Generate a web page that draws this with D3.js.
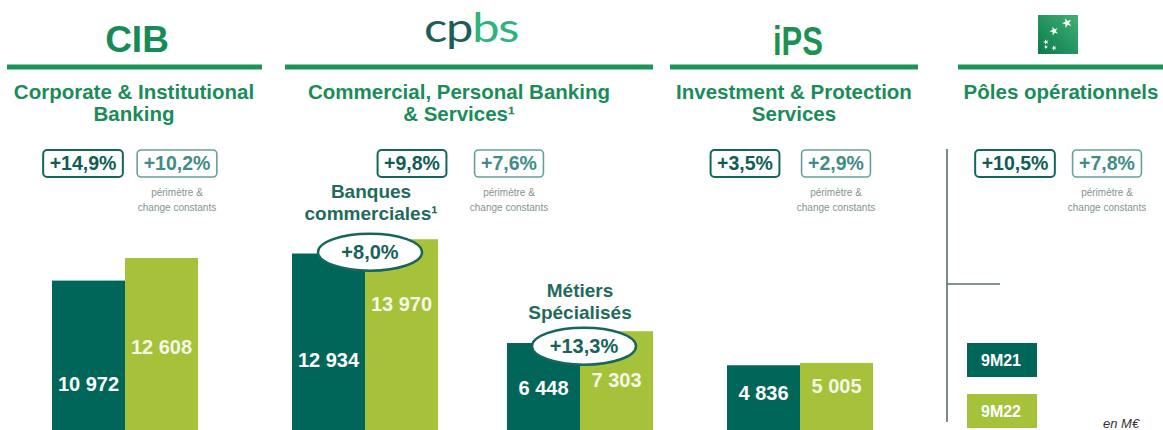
<!DOCTYPE html>
<html lang="fr">
<head>
<meta charset="utf-8">
<script src="https://cdn.jsdelivr.net/npm/d3@7"></script>
<style>
  body { margin: 0; background: #fff; }
  svg { display: block; font-family: "Liberation Sans", Arial, sans-serif; }
</style>
</head>
<body>
<script>
// data
var barGroups = ["CIB", "Banques commerciales", "Métiers Spécialisés", "IPS"];
var values9M21 = [10972, 12934, 6448, 4836];
var values9M22 = [12608, 13970, 7303, 5005];
var periods = ["9M21", "9M22"];

var poles = ["CIB", "CPBS", "IPS", "Pôles"];
var poleTitles = [
  ["Corporate & Institutional", "Banking"],
  ["Commercial, Personal Banking", "& Services¹"],
  ["Investment & Protection", "Services"],
  ["Pôles opérationnels"]
];
var poleGrowth = ["+14,9%", "+9,8%", "+3,5%", "+10,5%"];
var poleGrowthConst = ["+10,2%", "+7,6%", "+2,9%", "+7,8%"];
var subLabels = [["Banques", "commerciales¹"], ["Métiers", "Spécialisés"]];
var subGrowth = ["+8,0%", "+13,3%"];

// colours
var darkTeal = "#00665a", lightGreen = "#a5c23a", titleGreen = "#1a8c5a", lineGreen = "#1b9458";

var W = 1163, H = 430;
var svg = d3.select("body").append("svg").attr("width", W).attr("height", H);

// scales
var xSplit = d3.scaleOrdinal().domain(barGroups).range([125, 365, 580, 800]);
var barW = 73;
var y = d3.scaleLinear().domain([0, 14000]).range([432, 432 - 14000 * 0.0138]);

var poleX = d3.scaleOrdinal().domain(poles).range([134, 459, 794, 1061]);
var lineSpan = [[7, 262], [285, 653], [670, 918], [958, 1163]];
var badgeX = [[83, 177], [412, 509], [745, 836], [1015, 1107]];

// header lines
svg.selectAll(".hline").data(poles).enter().append("line")
  .attr("x1", function(d, i) { return lineSpan[i][0]; })
  .attr("x2", function(d, i) { return lineSpan[i][1]; })
  .attr("y1", 67).attr("y2", 67)
  .attr("stroke", lineGreen).attr("stroke-width", 5);

// logos
svg.append("text").attr("x", 137).attr("y", 52).attr("text-anchor", "middle")
  .style("font-size", "37px").style("font-weight", "bold").attr("fill", "#168a57").text("CIB");

var cp = svg.append("text").attr("transform", "translate(424,42) scale(1.22,1)")
  .style("font-family", "Lato, sans-serif").style("font-size", "40px").style("font-weight", "400")
  .style("letter-spacing", "-1px");
cp.append("tspan").attr("fill", "#1d5f58").text("cp");
cp.append("tspan").attr("fill", "#2db37b").text("bs");

svg.append("text").attr("x", 773).attr("y", 55)
  .attr("textLength", 50).attr("lengthAdjust", "spacingAndGlyphs")
  .style("font-size", "40px").style("font-weight", "bold").attr("fill", "#1c9150").text("iPS");

var grad = svg.append("defs").append("linearGradient").attr("id", "bnp")
  .attr("x1", "1").attr("y1", "0").attr("x2", "0").attr("y2", "1");
grad.append("stop").attr("offset", "0%").attr("stop-color", "#3fb173");
grad.append("stop").attr("offset", "100%").attr("stop-color", "#0b7a4c");
svg.append("rect").attr("x", 1038).attr("y", 15).attr("width", 40).attr("height", 39).attr("fill", "url(#bnp)");
var stars = [[1067, 23, 30], [1054, 31, 24], [1046, 42, 10], [1054, 48, 9], [1046, 47, 6]];
svg.selectAll(".star").data(stars).enter().append("path")
  .attr("transform", function(d) { return "translate(" + d[0] + "," + d[1] + ") rotate(-20)"; })
  .attr("d", function(d) { return d3.symbol(d3.symbolStar, d[2])(); })
  .attr("fill", "#fff");

// pole titles
poles.forEach(function(p, i) {
  var t = svg.append("text").attr("text-anchor", "middle")
    .style("font-size", "20.5px").style("font-weight", "bold").attr("fill", titleGreen);
  poleTitles[i].forEach(function(line, j) {
    t.append("tspan").attr("x", poleX(p)).attr("y", 99 + j * 22).text(line);
  });
});

// growth badges
function badge(cx, cy, label, strong) {
  var g = svg.append("g");
  var txt = g.append("text").attr("x", cx).attr("y", cy + 7).attr("text-anchor", "middle")
    .style("font-size", "19.5px").style("font-weight", "bold")
    .attr("fill", strong ? "#0f5e54" : "#3f8d85").text(label);
  var w = txt.node().getComputedTextLength() + 13;
  g.insert("rect", "text").attr("x", cx - w / 2).attr("y", cy - 13).attr("width", w).attr("height", 27)
    .attr("rx", 4).attr("fill", "#fff")
    .attr("stroke", strong ? "#14665b" : "#66a09a").attr("stroke-width", strong ? 2 : 1.6);
}
poles.forEach(function(p, i) {
  badge(badgeX[i][0], 163, poleGrowth[i], true);
  badge(badgeX[i][1], 163, poleGrowthConst[i], false);
  svg.append("text").attr("text-anchor", "middle").attr("fill", "#84958f").style("font-size", "10px")
    .selectAll("tspan").data(["périmètre &", "change constants"]).enter().append("tspan")
    .attr("x", badgeX[i][1]).attr("y", function(d, j) { return 196 + j * 15; }).text(function(d) { return d; });
});

// bars
var bars = [];
barGroups.forEach(function(g, i) {
  bars.push({ group: g, period: periods[0], value: values9M21[i] });
  bars.push({ group: g, period: periods[1], value: values9M22[i] });
});
svg.selectAll(".bar").data(bars).enter().append("rect")
  .attr("x", function(d) { return d.period === "9M21" ? xSplit(d.group) - barW : xSplit(d.group); })
  .attr("y", function(d) { return y(d.value); })
  .attr("width", barW)
  .attr("height", function(d) { return y(0) - y(d.value); })
  .attr("fill", function(d) { return d.period === "9M21" ? darkTeal : lightGreen; });

// value labels (px below bar top)
var labelDy = { "9M21": [110, 113, 52, 35], "9M22": [96, 72, 56, 30] };
var fmt = function(v) { return d3.format(",")(v).replace(",", " "); };
svg.selectAll(".val").data(bars).enter().append("text")
  .attr("x", function(d) { return xSplit(d.group) + (d.period === "9M21" ? -barW / 2 : barW / 2); })
  .attr("y", function(d) { return y(d.value) + labelDy[d.period][barGroups.indexOf(d.group)]; })
  .attr("text-anchor", "middle")
  .style("font-size", "20px").style("font-weight", "bold")
  .attr("fill", function(d) { return d.period === "9M21" ? "#fff" : "#f4f8e6"; })
  .text(function(d) { return fmt(d.value); });

// sub-business labels and ellipses
var subGroups = barGroups.slice(1, 3);
var subLabelX = [371, 580], subLabelY = [198, 297];
subGroups.forEach(function(g, i) {
  var t = svg.append("text").attr("text-anchor", "middle")
    .style("font-size", "19px").style("font-weight", "bold").attr("fill", "#1f6a5d");
  subLabels[i].forEach(function(line, j) {
    t.append("tspan").attr("x", subLabelX[i]).attr("y", subLabelY[i] + j * 22).text(line);
  });
  var cx = xSplit(g) + (i === 0 ? 5 : 4);
  var cy = y(Math.max(values9M21[barGroups.indexOf(g)], values9M22[barGroups.indexOf(g)])) + (i === 0 ? 13 : 15);
  svg.append("ellipse").attr("cx", cx).attr("cy", cy).attr("rx", 52).attr("ry", 18.5)
    .attr("fill", "#fff").attr("stroke", "#15665b").attr("stroke-width", 2.5);
  svg.append("text").attr("x", cx).attr("y", cy + 7).attr("text-anchor", "middle")
    .style("font-size", "20px").style("font-weight", "bold").attr("fill", "#15635a").text(subGrowth[i]);
});

// right panel lines
svg.append("line").attr("x1", 947).attr("x2", 947).attr("y1", 149).attr("y2", 422)
  .attr("stroke", "#55706c").attr("stroke-width", 1.6);
svg.append("line").attr("x1", 947).attr("x2", 1000).attr("y1", 284).attr("y2", 284)
  .attr("stroke", "#55706c").attr("stroke-width", 1.4);

// legend
var legend = svg.selectAll(".leg").data(periods).enter().append("g")
  .attr("transform", function(d, i) { return "translate(967," + (343 + i * 51) + ")"; });
legend.append("rect").attr("width", 70).attr("height", 34)
  .attr("fill", function(d, i) { return i === 0 ? darkTeal : lightGreen; });
legend.append("text").attr("x", 34).attr("y", 23).attr("text-anchor", "middle")
  .style("font-size", "16px").style("font-weight", "bold").attr("fill", "#fff")
  .text(function(d) { return d; });

svg.append("text").attr("x", 1103).attr("y", 428)
  .style("font-size", "13px").style("font-style", "italic").attr("fill", "#333").text("en M€");
</script>
</body>
</html>
